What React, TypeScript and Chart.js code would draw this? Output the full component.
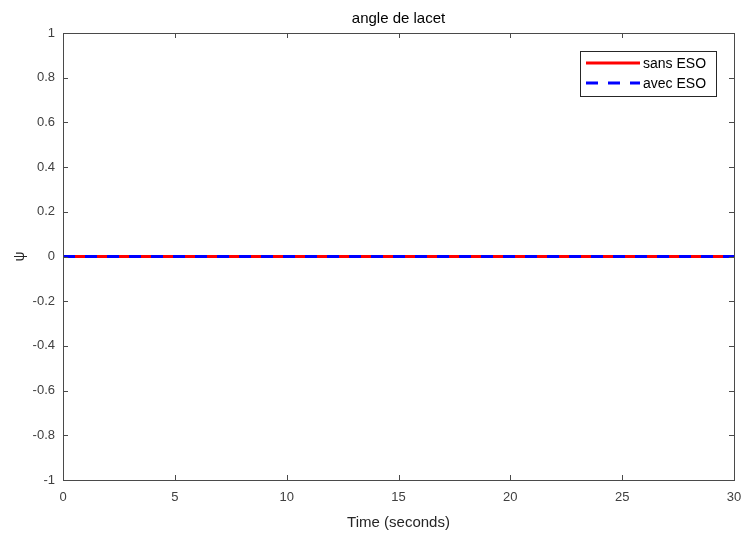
import React, { useEffect, useRef } from "react";
import { Chart, registerables } from "chart.js";

Chart.register(...registerables);

const titleText = "angle de lacet";
const xLabel = "Time (seconds)";
const yLabel = "ψ";
const time = [0, 5, 10, 15, 20, 25, 30];
const sansESO = [0, 0, 0, 0, 0, 0, 0];
const avecESO = [0, 0, 0, 0, 0, 0, 0];
const seriesNames = ["sans ESO", "avec ESO"];
const xTicks = [0, 5, 10, 15, 20, 25, 30];
const yTicks = [-1, -0.8, -0.6, -0.4, -0.2, 0, 0.2, 0.4, 0.6, 0.8, 1];

const FONT = "'Liberation Sans', Arial, Helvetica, sans-serif";
const AXIS_COLOR = "#4a4a4a";

const framePlugin = {
  id: "frame",
  afterDraw(chart: any) {
    const { ctx, chartArea } = chart;
    const { left, right, top, bottom } = chartArea;
    const xs = chart.scales.x;
    const ys = chart.scales.y;
    ctx.save();
    ctx.strokeStyle = AXIS_COLOR;
    ctx.lineWidth = 1;
    ctx.beginPath();
    const tl = 5;
    xTicks.forEach((v) => {
      const px = Math.round(xs.getPixelForValue(v)) + 0.5;
      ctx.moveTo(px, bottom);
      ctx.lineTo(px, bottom - tl);
      ctx.moveTo(px, top);
      ctx.lineTo(px, top + tl);
    });
    yTicks.forEach((v) => {
      const py = Math.round(ys.getPixelForValue(v)) + 0.5;
      ctx.moveTo(left, py);
      ctx.lineTo(left + tl, py);
      ctx.moveTo(right, py);
      ctx.lineTo(right - tl, py);
    });
    ctx.stroke();
    ctx.strokeRect(Math.round(left) + 0.5, Math.round(top) + 0.5, Math.round(right - left), Math.round(bottom - top));

    // title
    ctx.fillStyle = "#000";
    ctx.font = `15px ${FONT}`;
    ctx.textAlign = "center";
    ctx.textBaseline = "alphabetic";
    ctx.fillText(titleText, (left + right) / 2, 23);
    // x label
    ctx.fillStyle = "#262626";
    ctx.fillText(xLabel, (left + right) / 2, 527);
    // y label
    ctx.save();
    ctx.translate(20, (top + bottom) / 2);
    ctx.rotate(-Math.PI / 2);
    ctx.textBaseline = "middle";
    ctx.font = `14px ${FONT}`;
    ctx.fillText(yLabel, 0, 0);
    ctx.restore();

    // legend
    const bx = 580, by = 51, bw = 136, bh = 45;
    ctx.fillStyle = "#fff";
    ctx.fillRect(bx, by, bw, bh);
    ctx.strokeStyle = "#262626";
    ctx.lineWidth = 1;
    ctx.strokeRect(bx + 0.5, by + 0.5, bw, bh);
    chart.data.datasets.forEach((ds: any, i: number) => {
      const ly = 63 + i * 20;
      ctx.save();
      ctx.strokeStyle = ds.borderColor;
      ctx.lineWidth = ds.borderWidth;
      ctx.setLineDash(ds.borderDash || []);
      ctx.beginPath();
      ctx.moveTo(586, ly);
      ctx.lineTo(640, ly);
      ctx.stroke();
      ctx.restore();
      ctx.fillStyle = "#000";
      ctx.font = `14px ${FONT}`;
      ctx.textAlign = "left";
      ctx.textBaseline = "middle";
      ctx.fillText(ds.label, 643, ly + 1);
    });
    ctx.restore();
  },
};

export default function App() {
  const ref = useRef<HTMLCanvasElement | null>(null);
  useEffect(() => {
    document.body.style.margin = "0";
    const chart = new Chart(ref.current as HTMLCanvasElement, {
      type: "line",
      data: {
        labels: time,
        datasets: [
          {
            label: seriesNames[0],
            data: time.map((t, i) => ({ x: t, y: sansESO[i] })),
            borderColor: "#ff0000",
            borderWidth: 3,
            pointRadius: 0,
            fill: false,
            order: 2,
          },
          {
            label: seriesNames[1],
            data: time.map((t, i) => ({ x: t, y: avecESO[i] })),
            borderColor: "#0000ff",
            borderWidth: 3,
            borderDash: [12, 10],
            pointRadius: 0,
            fill: false,
            order: 1,
          },
        ],
      },
      options: {
        animation: false,
        responsive: false,
        devicePixelRatio: 1,
        layout: { padding: { left: 0, right: 10, top: 33, bottom: 0 } },
        plugins: { legend: { display: false }, title: { display: false }, tooltip: { enabled: false } },
        scales: {
          x: {
            type: "linear",
            min: 0,
            max: 30,
            afterBuildTicks: (s: any) => {
              s.ticks = xTicks.map((v) => ({ value: v }));
            },
            afterFit: (s: any) => {
              s.height = 54;
              s.paddingLeft = 0;
              s.paddingRight = 0;
            },
            grid: { display: false, drawTicks: false },
            border: { display: false },
            ticks: { color: "#404040", font: { family: FONT, size: 13 }, padding: 10, maxRotation: 0 },
          },
          y: {
            type: "linear",
            min: -1,
            max: 1,
            afterBuildTicks: (s: any) => {
              s.ticks = yTicks.map((v) => ({ value: v }));
            },
            afterFit: (s: any) => {
              s.width = 63;
              s.paddingTop = 0;
              s.paddingBottom = 0;
            },
            grid: { display: false, drawTicks: false },
            border: { display: false },
            ticks: {
              color: "#404040",
              font: { family: FONT, size: 13 },
              padding: 8,
              callback: (v: any) => String(Math.round(Number(v) * 10) / 10),
            },
          },
        },
      },
      plugins: [framePlugin],
    });
    return () => chart.destroy();
  }, []);
  return (
    <div style={{ position: "absolute", left: 0, top: 0, width: 744, height: 534, background: "#fff" }}>
      <canvas ref={ref} width={744} height={534} style={{ width: 744, height: 534 }} />
    </div>
  );
}
